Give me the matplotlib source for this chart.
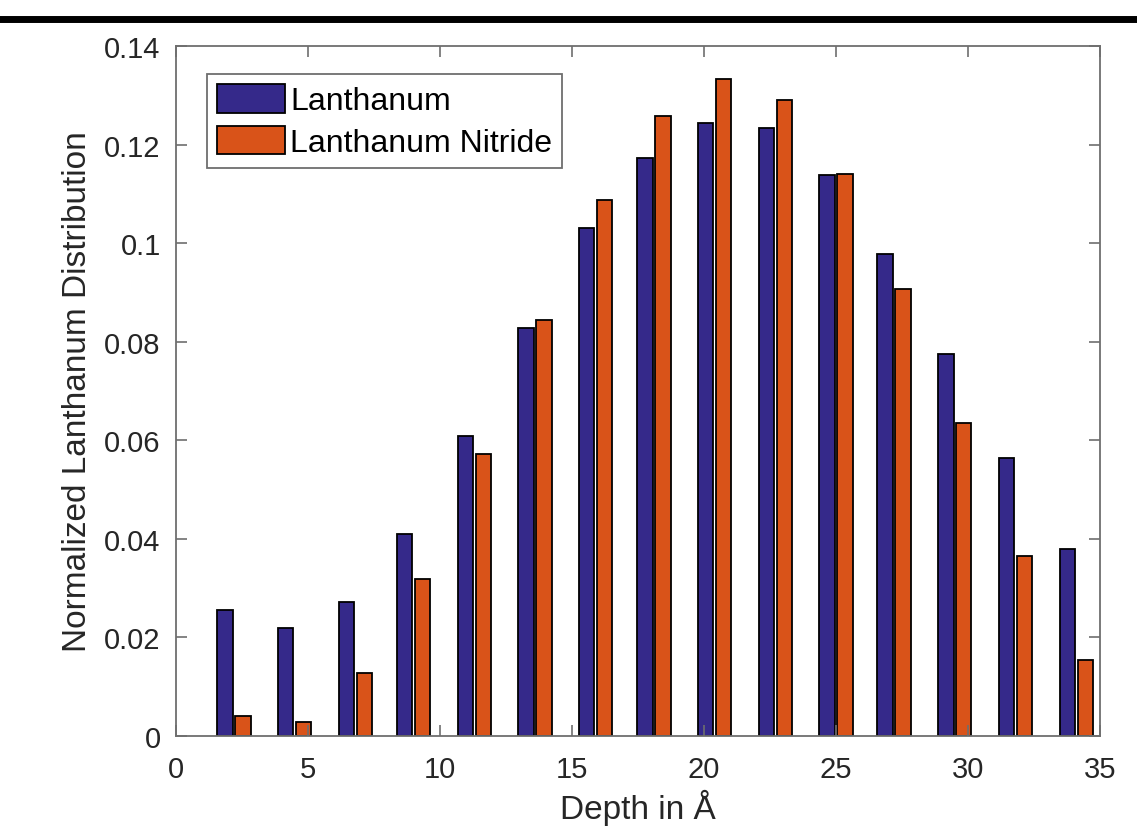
import matplotlib
matplotlib.use("Agg")
import matplotlib.pyplot as plt
from matplotlib.lines import Line2D
import numpy as np

plt.rcParams['font.family'] = ['Liberation Sans', 'DejaVu Sans']

depth = [2.2, 4.5, 6.8, 9.0, 11.3, 13.6, 15.9, 18.1, 20.4, 22.7, 25.0, 27.2, 29.5, 31.8, 34.1]
lanthanum = [0.0256, 0.0219, 0.0271, 0.0410, 0.0608, 0.0828, 0.1030, 0.1172, 0.1243, 0.1233,
             0.1139, 0.0979, 0.0776, 0.0564, 0.0380]
lanthanum_nitride = [0.0040, 0.0029, 0.0127, 0.0318, 0.0573, 0.0845, 0.1088, 0.1259, 0.1333, 0.1290,
                     0.1141, 0.0908, 0.0635, 0.0366, 0.0154]
series_names = ["Lanthanum", "Lanthanum Nitride"]
xticks = [0, 5, 10, 15, 20, 25, 30, 35]
yticks = [0, 0.02, 0.04, 0.06, 0.08, 0.1, 0.12, 0.14]
ytick_labels = ["0", "0.02", "0.04", "0.06", "0.08", "0.1", "0.12", "0.14"]

fig = plt.figure(figsize=(11.37, 8.37), dpi=100)
ax = fig.add_axes([0.1548, 0.1195, 0.9675 - 0.1548, 0.9438 - 0.1195])

x = np.array(depth)
w = 0.58
off = 0.34
ax.bar(x - off, lanthanum, width=w, color='#35298A', edgecolor='black', linewidth=1.3,
       label=series_names[0])
ax.bar(x + off, lanthanum_nitride, width=w, color='#D95319', edgecolor='black', linewidth=1.3,
       label=series_names[1])

ax.set_xlim(0, 35)
ax.set_ylim(0, 0.14)
ax.set_xticks(xticks)
ax.set_xticklabels([str(t) for t in xticks])
ax.set_yticks(yticks)
ax.set_yticklabels(ytick_labels)

axcol = '#6e6e6e'
for s in ax.spines.values():
    s.set_color(axcol)
    s.set_linewidth(1.3)
ax.tick_params(direction='in', length=8, width=1.2, color=axcol, labelsize=21,
               labelcolor='#262626', top=True, right=True)
ax.tick_params(axis='x', pad=14)
ax.tick_params(axis='y', pad=11)

ax.set_xlabel("Depth in Å", fontsize=24, color='#262626', labelpad=4)
ax.set_ylabel("Normalized Lanthanum Distribution", fontsize=24, color='#262626', labelpad=8)

leg = ax.legend(loc='upper left', bbox_to_anchor=(0.0335, 0.959), fontsize=23,
                handlelength=2.15, handleheight=1.0, handletextpad=0.15, labelspacing=0.3,
                borderpad=0.3, fancybox=False, framealpha=1, edgecolor='#6e6e6e',
                borderaxespad=0)
leg.get_frame().set_linewidth(1.3)

fig.add_artist(Line2D([0, 1], [1 - 20 / 837, 1 - 20 / 837], transform=fig.transFigure,
                      color='black', linewidth=5))

fig.savefig("out.png", dpi=100)
